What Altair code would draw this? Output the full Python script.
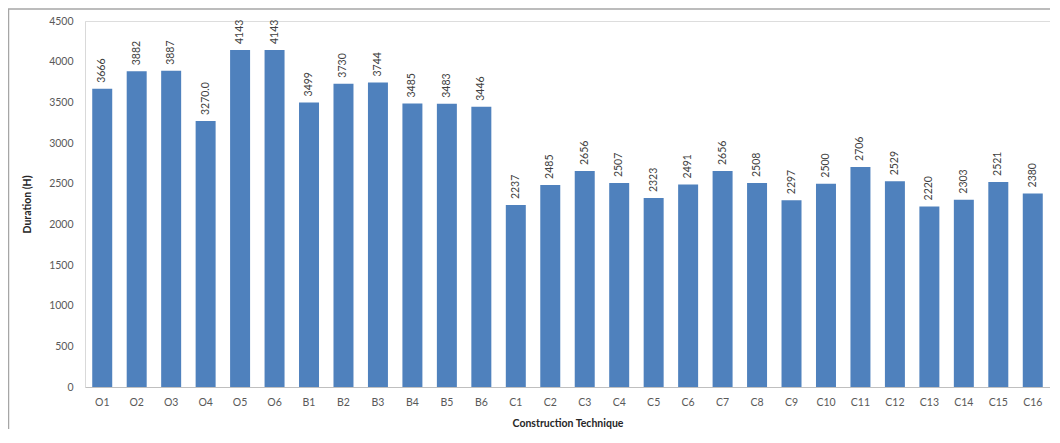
import altair as alt
import pandas as pd

categories = ["O1", "O2", "O3", "O4", "O5", "O6",
              "B1", "B2", "B3", "B4", "B5", "B6",
              "C1", "C2", "C3", "C4", "C5", "C6", "C7", "C8",
              "C9", "C10", "C11", "C12", "C13", "C14", "C15", "C16"]
durations = [3666, 3882, 3887, 3270.0, 4143, 4143,
             3499, 3730, 3744, 3485, 3483, 3446,
             2237, 2485, 2656, 2507, 2323, 2491, 2656, 2508,
             2297, 2500, 2706, 2529, 2220, 2303, 2521, 2380]
value_labels = ["3666", "3882", "3887", "3270.0", "4143", "4143",
                "3499", "3730", "3744", "3485", "3483", "3446",
                "2237", "2485", "2656", "2507", "2323", "2491", "2656", "2508",
                "2297", "2500", "2706", "2529", "2220", "2303", "2521", "2380"]
y_ticks = [0, 500, 1000, 1500, 2000, 2500, 3000, 3500, 4000, 4500]

df = pd.DataFrame({"cat": categories, "dur": durations, "lab": value_labels})

W, H = 965, 366
FONT = "Lato"

x = alt.X("cat:N", sort=categories, title="Construction Technique",
          scale=alt.Scale(paddingInner=0.42, paddingOuter=0.21),
          axis=alt.Axis(labelAngle=0, ticks=False, labelPadding=10,
                        labelFont=FONT, labelFontSize=10.5, labelColor="#595959",
                        domainColor="#bfbfbf", titleFont=FONT, titleFontSize=10.5,
                        titleFontWeight="bold", titleColor="#262626",
                        titleBaseline="middle", titleY=36))
y = alt.Y("dur:Q", title="Duration (H)",
          scale=alt.Scale(domain=[0, 4500], nice=False),
          axis=alt.Axis(values=y_ticks, format="d", grid=False, ticks=False, labelPadding=12,
                        labelFont=FONT, labelFontSize=10.5, labelColor="#595959",
                        domainColor="#d9d9d9", titleFont=FONT, titleFontSize=10.5,
                        titleFontWeight="bold", titleColor="#262626",
                        titleBaseline="middle", titleX=-58, titleY=H / 2))

bars = alt.Chart(df).mark_bar(color="#4F81BD").encode(x=x, y=y)
texts = alt.Chart(df).mark_text(angle=270, align="left", baseline="middle", dx=6,
                                font=FONT, fontSize=10.5, color="#404040").encode(
    x=alt.X("cat:N", sort=categories), y="dur:Q", text="lab:N")

frame = alt.Chart(alt.Data(values=[{}]))
left_border = frame.mark_rule(color="#a6a6a6", strokeWidth=1.5).encode(
    x=alt.value(-76.5), y=alt.value(-12), y2=alt.value(H + 42))
top_border = frame.mark_rule(color="#a6a6a6", strokeWidth=1.5).encode(
    x=alt.value(-77), x2=alt.value(W + 20), y=alt.value(-12))

chart = alt.layer(bars, texts, left_border, top_border).properties(
    width=W, height=H,
    autosize=alt.AutoSizeParams(type="none"),
    padding={"left": 77, "top": 13, "right": 0, "bottom": 42},
).configure_view(strokeWidth=0).configure(background="white")

chart.save("out.html", embed_options={"renderer": "svg", "actions": False})
